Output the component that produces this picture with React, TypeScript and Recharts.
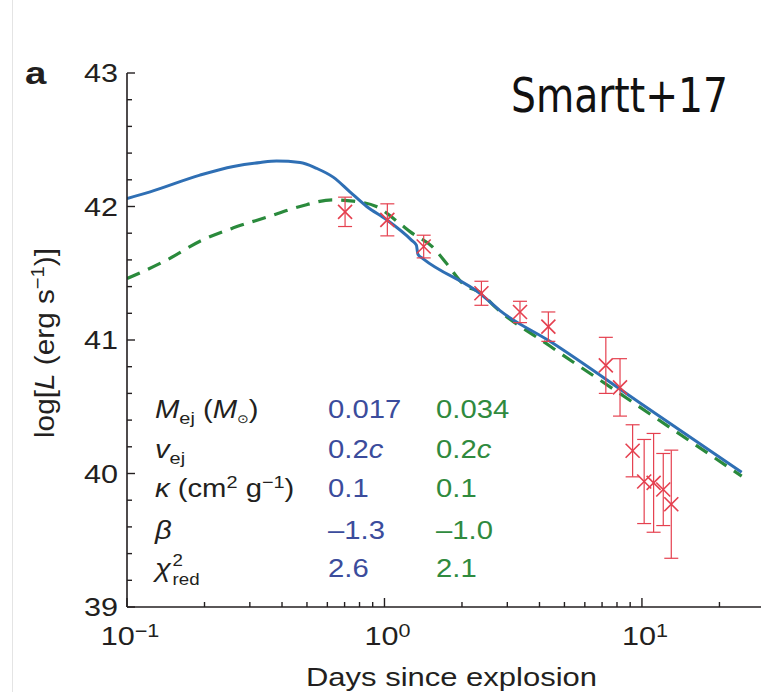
import React from 'react';
import { ComposedChart, Line, Scatter, XAxis, YAxis, ErrorBar } from 'recharts';

// ---- data ----
const blueDays = [0.1, 0.123, 0.192, 0.259, 0.33, 0.381, 0.47, 0.546, 0.632, 0.734, 0.853, 1.02, 1.27, 1.33, 1.35, 1.41, 2.38, 2.81, 4.39, 9.8, 24.4];
const blueLogL = [42.06, 42.11, 42.235, 42.3, 42.33, 42.34, 42.33, 42.285, 42.22, 42.11, 42.0, 41.9, 41.75, 41.71, 41.64, 41.61, 41.34, 41.22, 40.99, 40.53, 40.01];

const greenDays = [0.1, 0.143, 0.192, 0.259, 0.349, 0.47, 0.632, 0.757, 0.93, 1.15, 1.26, 1.55, 1.74, 2.02, 2.38, 2.65, 4.39, 7.98, 24.4];
const greenLogL = [41.46, 41.6, 41.74, 41.84, 41.92, 42.0, 42.05, 42.04, 42.0, 41.87, 41.81, 41.69, 41.575, 41.42, 41.35, 41.26, 40.955, 40.615, 39.98];

const obsDays = [0.703, 1.026, 1.42, 2.38, 3.36, 4.33, 7.24, 8.22, 9.2, 10.2, 11.1, 12.1, 13.0];
const obsLogL = [41.96, 41.9, 41.7, 41.35, 41.21, 41.1, 40.81, 40.645, 40.17, 39.94, 39.93, 39.88, 39.77];
const obsErr = [0.11, 0.12, 0.085, 0.09, 0.08, 0.11, 0.21, 0.215, 0.195, 0.315, 0.37, 0.27, 0.405];

const xTickValues = [0.1, 0.2, 0.3, 0.4, 0.5, 0.6, 0.7, 0.8, 0.9, 1, 2, 3, 4, 5, 6, 7, 8, 9, 10, 20];
const xMajorTicks = [0.1, 1, 10];
const xMajorExponents = ['\u22121', '0', '1'];

const yTickValues = [39, 39.2, 39.4, 39.6, 39.8, 40, 40.2, 40.4, 40.6, 40.8, 41, 41.2, 41.4, 41.6, 41.8, 42, 42.2, 42.4, 42.6, 42.8, 43];
const yMajorTicks = [39, 40, 41, 42, 43];
const yMajorLabels = ['39', '40', '41', '42', '43'];

const paramNames = ['M', 'v', 'kappa', 'beta', 'chi'];
const blueParams = ['0.017', '0.2c', '0.1', '\u20131.3', '2.6'];
const greenParams = ['0.034', '0.2c', '0.1', '\u20131.0', '2.1'];

const blueData = blueDays.map((x, i) => ({ x, y: blueLogL[i] }));
const greenData = greenDays.map((x, i) => ({ x, y: greenLogL[i] }));
const obsData = obsDays.map((x, i) => ({ x, y: obsLogL[i], err: obsErr[i] }));

// ---- styling ----
const W = 761;
const H = 692;
const INK = '#231f20';
const BLUE = '#2f6fb4';
const GREEN = '#2a8a3c';
const RED = '#e5404f';
const BLUE_TXT = '#3b4c9c';
const GREEN_TXT = '#2f8a3e';
const FONT = '"Liberation Sans", Arial, Helvetica, sans-serif';
const SX = 1.2; // horizontal stretch of the original figure's text
const TSX = 1.17;

const near = (a: number, b: number) => Math.abs(a - b) < 1e-6;

const XTick = (props: any) => {
  const { x, y, payload } = props;
  const v = payload.value;
  const mi = xMajorTicks.findIndex((m) => near(m, v));
  const major = mi >= 0;
  return (
    <g>
      <line x1={x} x2={x} y1={y} y2={y - (major ? 9 : 5)} stroke={INK} strokeWidth={1.4} />
      {major && (
        <g transform={`translate(${x + 3},${y + 38}) scale(${SX},1)`}>
          <text x={0} y={0} textAnchor="middle" fontSize={25.5} fill={INK} fontFamily={FONT}>
            10<tspan dy={-8} fontSize={18}>{xMajorExponents[mi]}</tspan>
          </text>
        </g>
      )}
    </g>
  );
};

const YTick = (props: any) => {
  const { x, y, payload } = props;
  const v = payload.value;
  const mi = yMajorTicks.findIndex((m) => near(m, v));
  const major = mi >= 0;
  return (
    <g>
      <line x1={x} x2={x + (major ? 8 : 5)} y1={y} y2={y} stroke={INK} strokeWidth={1.4} />
      {major && (
        <g transform={`translate(${x - 9},${y + 9}) scale(${SX},1)`}>
          <text x={0} y={0} textAnchor="end" fontSize={25.5} fill={INK} fontFamily={FONT}>
            {yMajorLabels[mi]}
          </text>
        </g>
      )}
    </g>
  );
};

const XMark = (props: any) => {
  const { cx, cy } = props;
  const s = 7;
  return (
    <g stroke={RED} strokeWidth={1.6}>
      <line x1={cx - s} y1={cy - s} x2={cx + s} y2={cy + s} />
      <line x1={cx - s} y1={cy + s} x2={cx + s} y2={cy - s} />
    </g>
  );
};

const ValueText = ({ v, color }: { v: string; color: string }) => {
  if (v.endsWith('c')) {
    return (
      <text x={0} y={0} fontSize={25} fill={color} fontFamily={FONT}>
        {v.slice(0, -1)}
        <tspan fontStyle="italic">c</tspan>
      </text>
    );
  }
  return (
    <text x={0} y={0} fontSize={25} fill={color} fontFamily={FONT}>
      {v}
    </text>
  );
};

const ParamLabel = ({ name }: { name: string }) => {
  const common = { x: 0, y: 0, fontSize: 25, fill: INK, fontFamily: FONT } as any;
  if (name === 'M')
    return (
      <text {...common}>
        <tspan fontStyle="italic">M</tspan>
        <tspan dy={6} fontSize={17}>ej</tspan>
        <tspan dy={-6}> (</tspan>
        <tspan fontStyle="italic">M</tspan>
        <tspan dy={5} fontSize={12} fontFamily="DejaVu Sans">{'\u2299'}</tspan>
        <tspan dy={-5}>)</tspan>
      </text>
    );
  if (name === 'v')
    return (
      <text {...common}>
        <tspan fontStyle="italic">v</tspan>
        <tspan dy={6} fontSize={17}>ej</tspan>
      </text>
    );
  if (name === 'kappa')
    return (
      <text {...common}>
        <tspan fontStyle="italic">{'\u03ba'}</tspan>
        <tspan> (cm</tspan>
        <tspan dy={-9} fontSize={17}>2</tspan>
        <tspan dy={9}> g</tspan>
        <tspan dy={-9} fontSize={17}>{'\u22121'}</tspan>
        <tspan dy={9}>)</tspan>
      </text>
    );
  if (name === 'beta')
    return (
      <text {...common}>
        <tspan fontStyle="italic">{'\u03b2'}</tspan>
      </text>
    );
  return (
    <g>
      <text {...common}>
        <tspan fontStyle="italic">{'\u03c7'}</tspan>
      </text>
      <text x={15} y={-11} fontSize={16} fill={INK} fontFamily={FONT}>
        2
      </text>
      <text x={15} y={8} fontSize={16} fill={INK} fontFamily={FONT}>
        red
      </text>
    </g>
  );
};

const rowBaselines = [418, 458, 497, 539, 577];

export default function App() {
  return (
    <div
      style={{
        position: 'fixed',
        left: 0,
        top: 0,
        width: W,
        height: H,
        background: '#fff',
        overflow: 'hidden',
      }}
    >
      <ComposedChart width={W} height={H} margin={{ top: 73, right: 0, bottom: 25, left: 0 }}>
        <XAxis
          dataKey="x"
          type="number"
          scale="log"
          domain={[0.1, 29]}
          allowDataOverflow
          ticks={xTickValues}
          interval={0}
          tick={<XTick />}
          tickLine={false}
          tickSize={0}
          tickMargin={0}
          height={60}
          axisLine={{ stroke: INK, strokeWidth: 1.6 }}
        />
        <YAxis
          dataKey="y"
          type="number"
          domain={[39, 43]}
          allowDataOverflow
          ticks={yTickValues}
          interval={0}
          tick={<YTick />}
          tickLine={false}
          tickSize={0}
          tickMargin={0}
          width={127}
          axisLine={{ stroke: INK, strokeWidth: 1.6 }}
        />
        <Line
          data={greenData}
          dataKey="y"
          type="monotone"
          stroke={GREEN}
          strokeWidth={3.2}
          strokeDasharray="14 9"
          dot={false}
          activeDot={false}
          isAnimationActive={false}
        />
        <Line
          data={blueData}
          dataKey="y"
          type="monotone"
          stroke={BLUE}
          strokeWidth={3}
          dot={false}
          activeDot={false}
          isAnimationActive={false}
        />
        <Scatter data={obsData} dataKey="y" shape={<XMark />} isAnimationActive={false}>
          <ErrorBar dataKey="err" direction="y" width={7} stroke={RED} strokeWidth={1.2} />
        </Scatter>
      </ComposedChart>

      <svg
        width={W}
        height={H}
        style={{ position: 'absolute', left: 0, top: 0, pointerEvents: 'none' }}
      >
        <line x1={12.5} x2={12.5} y1={0} y2={H} stroke="#e4e4e4" strokeWidth={1} />
        <g transform={`translate(25,84) scale(${SX},1)`}>
          <text x={0} y={0} fontSize={32} fontWeight="bold" fill={INK} fontFamily={FONT}>
            a
          </text>
        </g>
        <text
          x={511}
          y={112}
          fontSize={48}
          fill="#111"
          fontFamily='"DejaVu Sans Condensed", "DejaVu Sans", sans-serif'
          textLength={217}
          lengthAdjust="spacingAndGlyphs"
        >
          Smartt+17
        </text>
        <text
          transform="translate(54,343) rotate(-90)"
          textAnchor="middle"
          fontSize={28}
          fill={INK}
          fontFamily={FONT}
          textLength={190}
          lengthAdjust="spacingAndGlyphs"
        >
          log[<tspan fontStyle="italic">L</tspan> (erg s<tspan dy={-10} fontSize={19}>{'\u22121'}</tspan>
          <tspan dy={10}>)]</tspan>
        </text>
        <text
          x={451.5}
          y={686}
          textAnchor="middle"
          fontSize={25.5}
          fill={INK}
          fontFamily={FONT}
          textLength={291}
          lengthAdjust="spacingAndGlyphs"
        >
          Days since explosion
        </text>
        {paramNames.map((n, i) => (
          <g key={n} transform={`translate(155,${rowBaselines[i]}) scale(${TSX},1)`}>
            <ParamLabel name={n} />
          </g>
        ))}
        {blueParams.map((v, i) => (
          <g key={'b' + i} transform={`translate(328,${rowBaselines[i]}) scale(${TSX},1)`}>
            <ValueText v={v} color={BLUE_TXT} />
          </g>
        ))}
        {greenParams.map((v, i) => (
          <g key={'g' + i} transform={`translate(436,${rowBaselines[i]}) scale(${TSX},1)`}>
            <ValueText v={v} color={GREEN_TXT} />
          </g>
        ))}
      </svg>
    </div>
  );
}
